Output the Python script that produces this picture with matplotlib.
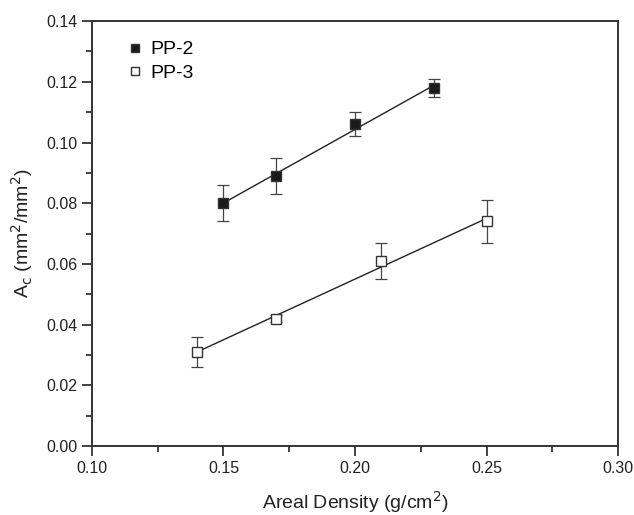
import matplotlib
matplotlib.use("Agg")
import matplotlib.pyplot as plt
import numpy as np
from matplotlib.ticker import MultipleLocator

plt.rcParams["font.family"] = ["Liberation Sans", "DejaVu Sans"]

# data
pp2_x = [0.15, 0.17, 0.20, 0.23]
pp2_y = [0.080, 0.089, 0.106, 0.118]
pp2_err = [0.006, 0.006, 0.004, 0.003]

pp3_x = [0.14, 0.17, 0.21, 0.25]
pp3_y = [0.031, 0.042, 0.061, 0.074]
pp3_err = [0.005, 0.001, 0.006, 0.007]

fig = plt.figure(figsize=(6.34, 5.15), dpi=100)
ax = fig.add_axes([0.145, 0.134, 0.83, 0.825])

for xs, ys, errs, face, lab in [(pp2_x, pp2_y, pp2_err, "#1a1a1a", "PP-2"),
                                (pp3_x, pp3_y, pp3_err, "white", "PP-3")]:
    # linear fit line
    k, b = np.polyfit(xs, ys, 1)
    fx = np.array([min(xs), max(xs)])
    ax.plot(fx, k * fx + b, color="#222222", lw=1.0, zorder=2)
    ax.errorbar(xs, ys, yerr=errs, fmt="none", ecolor="#444444",
                elinewidth=0.9, capsize=4, capthick=0.9, zorder=3)
    ax.plot(xs, ys, ls="none", marker="s", ms=7, mfc=face, mec="#333333",
            mew=1.0, zorder=4, label=lab)

ax.set_xlim(0.10, 0.30)
ax.set_ylim(0.0, 0.14)
ax.xaxis.set_major_locator(MultipleLocator(0.05))
ax.xaxis.set_minor_locator(MultipleLocator(0.025))
ax.yaxis.set_major_locator(MultipleLocator(0.02))
ax.yaxis.set_minor_locator(MultipleLocator(0.01))
ax.xaxis.set_major_formatter(plt.FormatStrFormatter("%.2f"))
ax.yaxis.set_major_formatter(plt.FormatStrFormatter("%.2f"))

ax.tick_params(which="both", direction="out", top=False, right=False,
               labelsize=11.5, colors="#222222", width=1.2)
ax.tick_params(which="major", length=7)
ax.tick_params(which="minor", length=4)
for s in ax.spines.values():
    s.set_linewidth(1.4)
    s.set_color("#333333")

ax.set_xlabel("Areal Density (g/cm$^2$)", fontsize=14, color="#222222", labelpad=10)
ax.set_ylabel("A$_\\mathrm{c}$ (mm$^2$/mm$^2$)", fontsize=14, color="#222222", labelpad=8)

ax.legend(loc="upper left", bbox_to_anchor=(0.03, 0.995), frameon=False,
          fontsize=14, handletextpad=0.3, handlelength=1.0, labelspacing=0.3,
          markerscale=0.8)

fig.savefig("out.png", dpi=100)
